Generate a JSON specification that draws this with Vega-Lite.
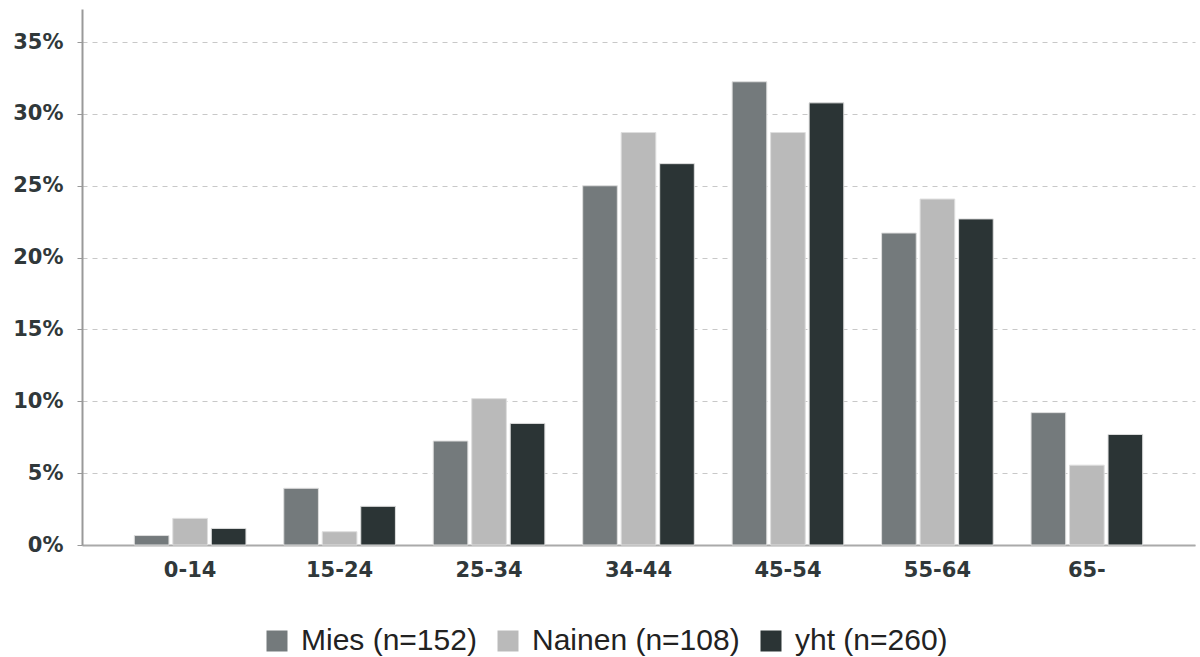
{
  "$schema": "https://vega.github.io/schema/vega-lite/v6.json",
  "width": 1113,
  "height": 536,
  "autosize": {"type": "none"},
  "padding": {"left": 82, "top": 9, "right": 5, "bottom": 112},
  "background": "white",
  "data": {
    "values": [
      {"ika": "0-14", "ryhma": "Mies (n=152)", "osuus": 0.00658},
      {"ika": "0-14", "ryhma": "Nainen (n=108)", "osuus": 0.01852},
      {"ika": "0-14", "ryhma": "yht (n=260)", "osuus": 0.01154},
      {"ika": "15-24", "ryhma": "Mies (n=152)", "osuus": 0.03947},
      {"ika": "15-24", "ryhma": "Nainen (n=108)", "osuus": 0.00926},
      {"ika": "15-24", "ryhma": "yht (n=260)", "osuus": 0.02692},
      {"ika": "25-34", "ryhma": "Mies (n=152)", "osuus": 0.07237},
      {"ika": "25-34", "ryhma": "Nainen (n=108)", "osuus": 0.10185},
      {"ika": "25-34", "ryhma": "yht (n=260)", "osuus": 0.08462},
      {"ika": "34-44", "ryhma": "Mies (n=152)", "osuus": 0.25},
      {"ika": "34-44", "ryhma": "Nainen (n=108)", "osuus": 0.28704},
      {"ika": "34-44", "ryhma": "yht (n=260)", "osuus": 0.26538},
      {"ika": "45-54", "ryhma": "Mies (n=152)", "osuus": 0.32237},
      {"ika": "45-54", "ryhma": "Nainen (n=108)", "osuus": 0.28704},
      {"ika": "45-54", "ryhma": "yht (n=260)", "osuus": 0.30769},
      {"ika": "55-64", "ryhma": "Mies (n=152)", "osuus": 0.21711},
      {"ika": "55-64", "ryhma": "Nainen (n=108)", "osuus": 0.24074},
      {"ika": "55-64", "ryhma": "yht (n=260)", "osuus": 0.22692},
      {"ika": "65-", "ryhma": "Mies (n=152)", "osuus": 0.09211},
      {"ika": "65-", "ryhma": "Nainen (n=108)", "osuus": 0.05556},
      {"ika": "65-", "ryhma": "yht (n=260)", "osuus": 0.07692}
    ]
  },
  "mark": {"type": "bar", "stroke": "#dedede", "strokeWidth": 1},
  "encoding": {
    "x": {
      "field": "ika",
      "type": "nominal",
      "sort": ["0-14", "15-24", "25-34", "34-44", "45-54", "55-64", "65-"],
      "scale": {"paddingInner": 0.253, "paddingOuter": 0.35},
      "axis": {
        "title": null,
        "labelAngle": 0,
        "ticks": false,
        "labelPadding": 14,
        "labelFont": "DejaVu Sans",
        "labelFontSize": 21,
        "labelFontWeight": "bold",
        "labelColor": "#30383a",
        "domainColor": "#aaaaaa",
        "domainWidth": 2,
        "grid": false
      }
    },
    "xOffset": {
      "field": "ryhma",
      "type": "nominal",
      "sort": ["Mies (n=152)", "Nainen (n=108)", "yht (n=260)"],
      "scale": {"paddingInner": 0.1}
    },
    "y": {
      "field": "osuus",
      "type": "quantitative",
      "scale": {"domain": [0, 0.373], "nice": false},
      "axis": {
        "title": null,
        "format": ".0%",
        "values": [0, 0.05, 0.1, 0.15, 0.2, 0.25, 0.3, 0.35],
        "labelFont": "DejaVu Sans",
        "labelFontSize": 21,
        "labelFontWeight": "bold",
        "labelColor": "#30383a",
        "labelPadding": 14,
        "tickSize": 5,
        "tickColor": "#999999",
        "domainColor": "#999999",
        "domainWidth": 2,
        "grid": true,
        "gridColor": "#c8c8c8",
        "gridDash": [5, 5],
        "gridWidth": 1
      }
    },
    "color": {
      "field": "ryhma",
      "type": "nominal",
      "sort": ["Mies (n=152)", "Nainen (n=108)", "yht (n=260)"],
      "scale": {
        "domain": ["Mies (n=152)", "Nainen (n=108)", "yht (n=260)"],
        "range": ["#747a7c", "#bababa", "#2b3435"]
      },
      "legend": {
        "title": null,
        "orient": "none",
        "direction": "horizontal",
        "legendX": 180,
        "legendY": 617,
        "symbolType": "square",
        "symbolSize": 441,
        "symbolStrokeWidth": 0,
        "labelFont": "Liberation Sans",
        "labelFontSize": 30,
        "labelColor": "#222222",
        "labelLimit": 0,
        "labelOffset": 9,
        "columnPadding": 16
      }
    }
  },
  "config": {"view": {"stroke": null}}
}
